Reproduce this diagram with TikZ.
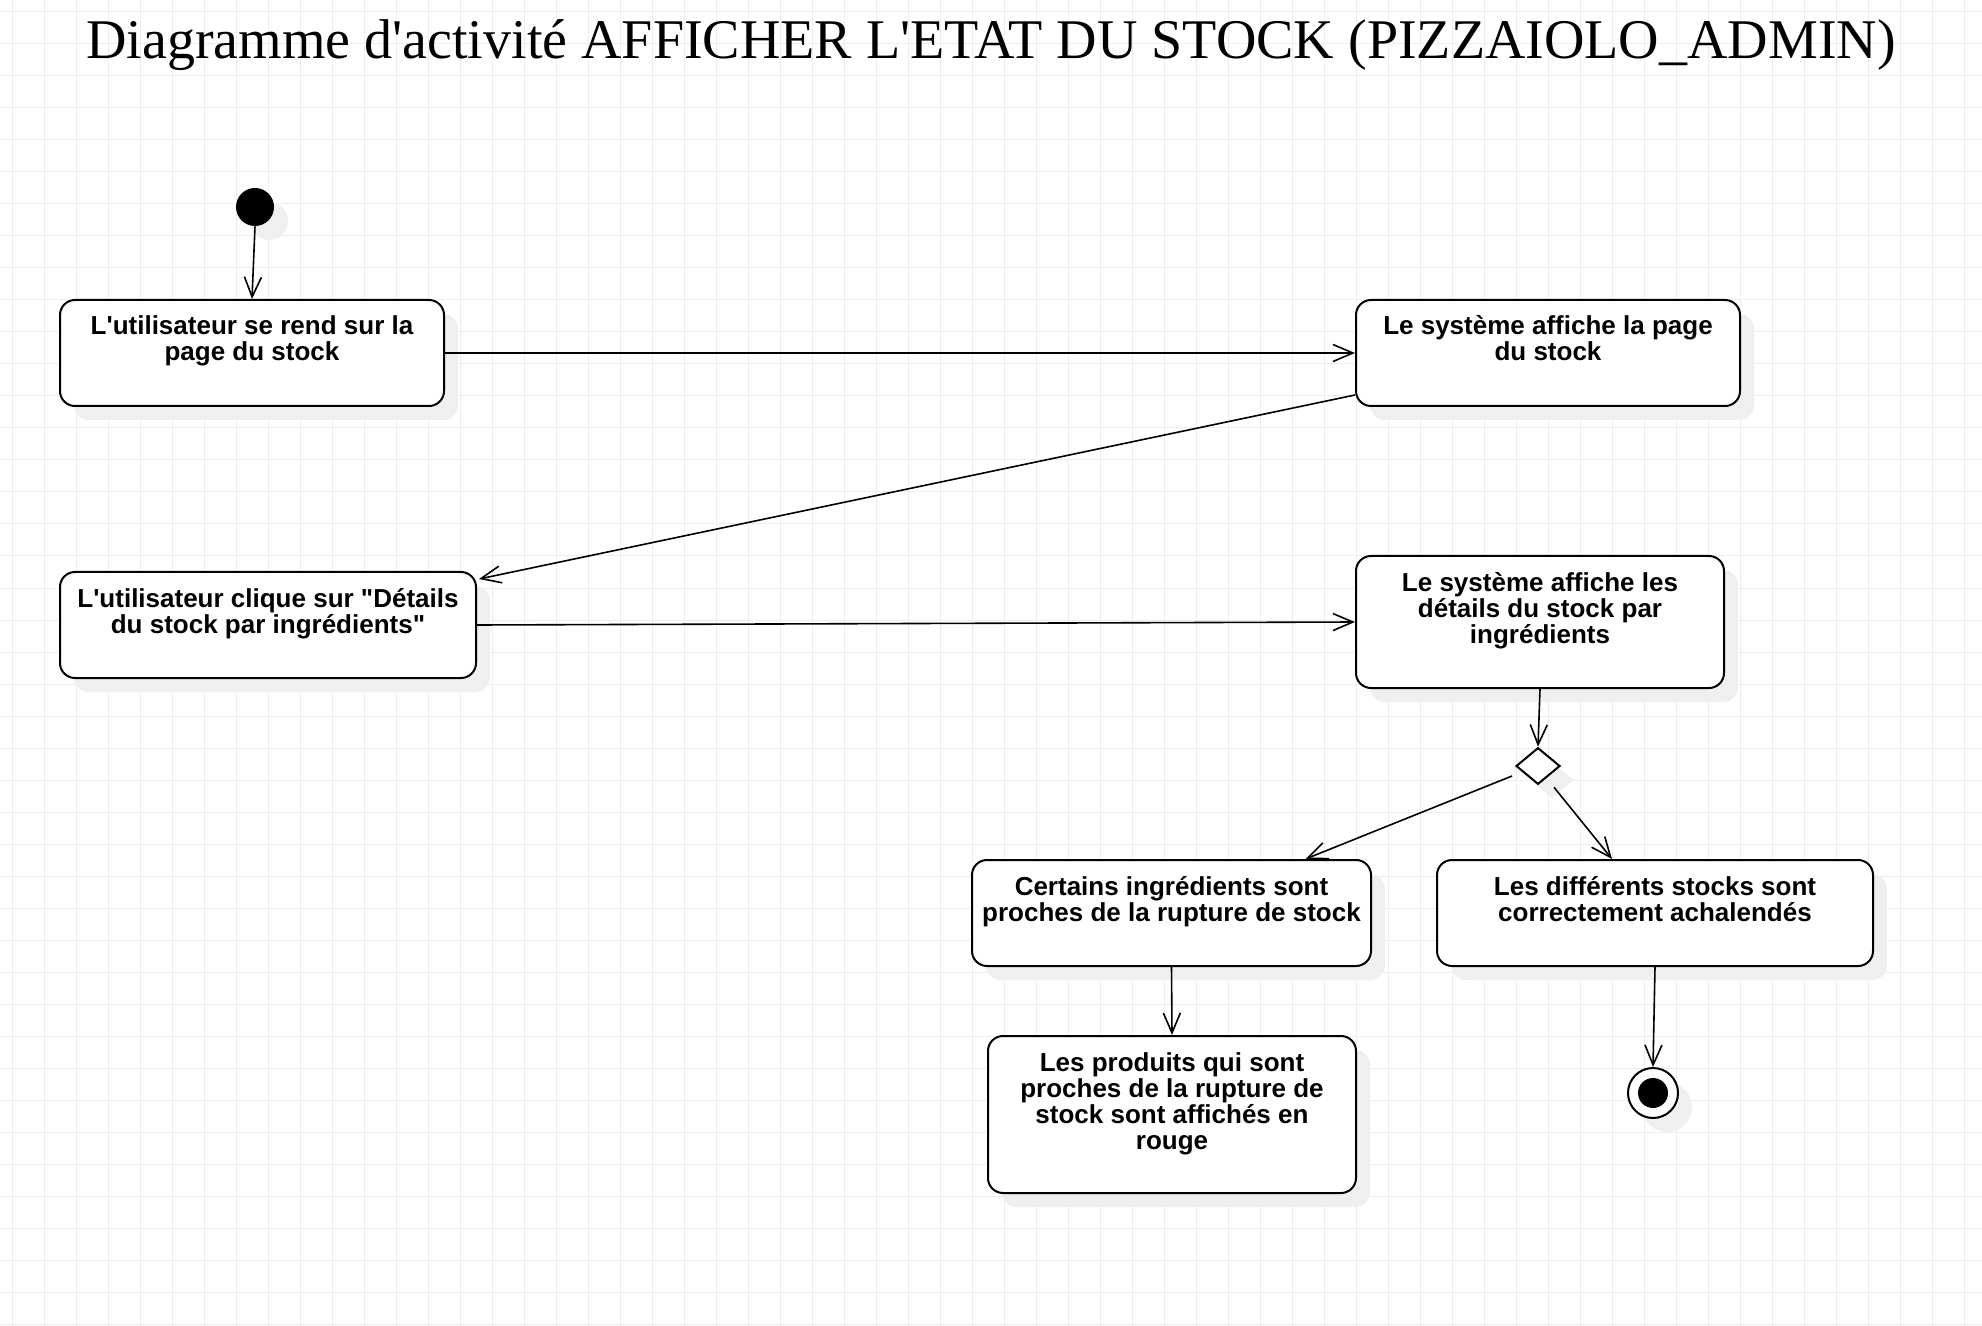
\documentclass[tikz,border=0pt]{standalone}
\usepackage{fontspec}
\setmainfont{Liberation Sans}[Ligatures=TeXOff]
\newfontfamily\titlefont{Liberation Serif}[Ligatures=TeXOff]
\usetikzlibrary{arrows.meta,shadows,shapes.geometric,calc}
\definecolor{gridc}{HTML}{EDEDED}
\definecolor{shadowc}{HTML}{EFEFEF}
\newcommand\fstrut{\rule{0pt}{11pt}}
\tikzset{
  shad/.style={general shadow={fill=shadowc, draw=none, shadow xshift=7pt, shadow yshift=-7pt}},
  box/.style={draw=black, line width=1pt, rounded corners=7.5pt, fill=white, shad, inner sep=0pt},
  boxtext/.style={anchor=north, align=center, inner sep=0pt, font=\bfseries\fontsize{13pt}{13pt}\selectfont},
  flow/.style={draw=black, line width=0.8pt, -{Straight Barb[length=10pt,width=8.5pt]}},
}
\begin{document}
\begin{tikzpicture}[x=0.5pt,y=-0.5pt]
\useasboundingbox (0,0) rectangle (1982,1326);
\fill[white] (0,0) rectangle (1982,1326);
\foreach \i in {0,...,61} {\draw[gridc, line width=0.5pt] (12+32*\i,0) -- (12+32*\i,1326);}
\foreach \j in {0,...,41} {\draw[gridc, line width=0.5pt] (0,12+32*\j) -- (1982,12+32*\j);}

\node[anchor=base, inner sep=0pt, font=\titlefont\fontsize{28pt}{33pt}\selectfont] (title) at (991,59) {Diagramme d'activité AFFICHER L'ETAT DU STOCK (PIZZAIOLO\_ADMIN)};

% initial node
\node[circle, fill=black, minimum size=19pt, inner sep=0pt, shad] (init) at (255,207) {};

% action boxes
\node[box, minimum width=192pt, minimum height=53pt] (b1) at (252,353) {};
\node[boxtext] (b1t) at ([yshift=-6.8pt]b1.north) {\fstrut L'utilisateur se rend sur la\\page du stock};

\node[box, minimum width=192pt, minimum height=53pt] (b2) at (1548,353) {};
\node[boxtext] (b2t) at ([yshift=-6.8pt]b2.north) {\fstrut Le système affiche la page\\du stock};

\node[box, minimum width=208pt, minimum height=53pt] (b3) at (268,625) {};
\node[boxtext] (b3t) at ([yshift=-6.8pt]b3.north) {\fstrut L'utilisateur clique sur "Détails\\du stock par ingrédients"};

\node[box, minimum width=184pt, minimum height=66pt] (b4) at (1540,622) {};
\node[boxtext] (b4t) at ([yshift=-6.8pt]b4.north) {\fstrut Le système affiche les\\détails du stock par\\ingrédients};

\node[diamond, draw=black, line width=1pt, fill=white, minimum width=22pt, minimum height=18.3pt, inner sep=0pt, shad] (d) at (1538,766) {};

\node[box, minimum width=199.5pt, minimum height=53pt] (b5) at (1171.5,913) {};
\node[boxtext] (b5t) at ([yshift=-6.8pt]b5.north) {\fstrut Certains ingrédients sont\\proches de la rupture de stock};

\node[box, minimum width=218pt, minimum height=53pt] (b6) at (1655,913) {};
\node[boxtext] (b6t) at ([yshift=-6.8pt]b6.north) {\fstrut Les différents stocks sont\\correctement achalendés};

\node[box, minimum width=184pt, minimum height=78.5pt] (b7) at (1172,1114.5) {};
\node[boxtext] (b7t) at ([yshift=-6.8pt]b7.north) {\fstrut Les produits qui sont\\proches de la rupture de\\stock sont affichés en\\rouge};

% final node
\node[circle, draw=black, line width=1pt, fill=white, minimum size=25pt, inner sep=0pt, shad] (fin) at (1653,1093) {};
\node[circle, fill=black, minimum size=15pt, inner sep=0pt] (finc) at (fin.center) {};

% connectors
\draw[flow] (init.south) -- (b1.north);
\draw[flow] (b1.east) -- (b2.west);
\draw[flow] ([yshift=6pt]b2.south west) -- ([xshift=1pt,yshift=-4pt]b3.north east);
\draw[flow] (b3.east) -- (b4.west);
\draw[flow] (b4.south) -- (d.north);
\draw[flow] ([xshift=-1.5pt,yshift=-5pt]d.west) -- ([xshift=67pt]b5.north);
\draw[flow] ([xshift=8pt,yshift=-1pt]d.south) -- ([xshift=-21.5pt]b6.north);
\draw[flow] (b5.south) -- (b7.north);
\draw[flow] (b6.south) -- (fin.north);
\end{tikzpicture}
\end{document}
